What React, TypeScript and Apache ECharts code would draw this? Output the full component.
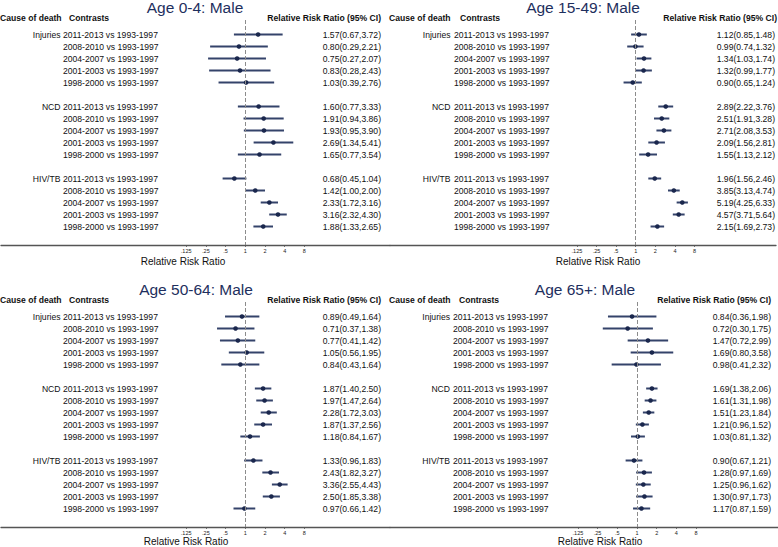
import React, { useEffect, useRef } from 'react';
import * as echarts from 'echarts';

// ---------- data ----------
const causes = ['Injuries', 'NCD', 'HIV/TB'];
const contrasts = [
  '2011-2013 vs 1993-1997',
  '2008-2010 vs 1993-1997',
  '2004-2007 vs 1993-1997',
  '2001-2003 vs 1993-1997',
  '1998-2000 vs 1993-1997',
];
const tickValues = [0.125, 0.25, 0.5, 1, 2, 4, 8];
const tickLabels = ['.125', '.25', '.5', '1', '2', '4', '8'];
const panelTitles = ['Age 0-4: Male', 'Age 15-49: Male', 'Age 50-64: Male', 'Age 65+: Male'];

// order: Injuries x5, NCD x5, HIV/TB x5
const est0_4 = [1.57, 0.80, 0.75, 0.83, 1.03, 1.60, 1.91, 1.93, 2.69, 1.65, 0.68, 1.42, 2.33, 3.16, 1.88];
const lo0_4 = [0.67, 0.29, 0.27, 0.28, 0.39, 0.77, 0.94, 0.95, 1.34, 0.77, 0.45, 1.00, 1.72, 2.32, 1.33];
const hi0_4 = [3.72, 2.21, 2.07, 2.43, 2.76, 3.33, 3.86, 3.90, 5.41, 3.54, 1.04, 2.00, 3.16, 4.30, 2.65];

const est15_49 = [1.12, 0.99, 1.34, 1.32, 0.90, 2.89, 2.51, 2.71, 2.09, 1.55, 1.96, 3.85, 5.19, 4.57, 2.15];
const lo15_49 = [0.85, 0.74, 1.03, 0.99, 0.65, 2.22, 1.91, 2.08, 1.56, 1.13, 1.56, 3.13, 4.25, 3.71, 1.69];
const hi15_49 = [1.48, 1.32, 1.74, 1.77, 1.24, 3.76, 3.28, 3.53, 2.81, 2.12, 2.46, 4.74, 6.33, 5.64, 2.73];

const est50_64 = [0.89, 0.71, 0.77, 1.05, 0.84, 1.87, 1.97, 2.28, 1.87, 1.18, 1.33, 2.43, 3.36, 2.50, 0.97];
const lo50_64 = [0.49, 0.37, 0.41, 0.56, 0.43, 1.40, 1.47, 1.72, 1.37, 0.84, 0.96, 1.82, 2.55, 1.85, 0.66];
const hi50_64 = [1.64, 1.38, 1.42, 1.95, 1.64, 2.50, 2.64, 3.03, 2.56, 1.67, 1.83, 3.27, 4.43, 3.38, 1.42];

const est65 = [0.84, 0.72, 1.47, 1.69, 0.98, 1.69, 1.61, 1.51, 1.21, 1.03, 0.90, 1.28, 1.25, 1.30, 1.17];
const lo65 = [0.36, 0.30, 0.72, 0.80, 0.41, 1.38, 1.31, 1.23, 0.96, 0.81, 0.67, 0.97, 0.96, 0.97, 0.87];
const hi65 = [1.98, 1.75, 2.99, 3.58, 2.32, 2.06, 1.98, 1.84, 1.52, 1.32, 1.21, 1.69, 1.62, 1.73, 1.59];

const panelData = [
  { est: est0_4, lo: lo0_4, hi: hi0_4 },
  { est: est15_49, lo: lo15_49, hi: hi15_49 },
  { est: est50_64, lo: lo50_64, hi: hi50_64 },
  { est: est65, lo: lo65, hi: hi65 },
];

// ---------- layout ----------
const PANELS = [
  { left: 1, right: 390, refX: 245.3, valRight: 381, causeRight: 60.5, conX: 63, titleX: 195, nameX: 183, off: 0, nameOff: 0 },
  { left: 390, right: 778, refX: 637, valRight: 777, causeRight: 450.5, conX: 454, titleX: 583, nameX: 598, off: 0, nameOff: 0 },
  { left: 1, right: 390, refX: 245.3, valRight: 381, causeRight: 60.5, conX: 63, titleX: 196, nameX: 186, off: 282, nameOff: 280 },
  { left: 390, right: 778, refX: 637, valRight: 771, causeRight: 450, conX: 453, titleX: 585, nameX: 600, off: 282, nameOff: 280 },
];
const PX_PER_LOG2 = 19.7;
const ROW_H = 12;
const GRID_TOP = 20;
const GRID_BOTTOM = 245;
const ROW0 = 34.5;
const Y_MIN = -(ROW0 - GRID_TOP) / ROW_H;
const Y_MAX = Y_MIN + (GRID_BOTTOM - GRID_TOP) / ROW_H;
const FONT = '"Liberation Sans", Arial, Helvetica, sans-serif';
const FS = 8.6;
const TXT = '#111111';

const rowIndex = (i: number) => Math.floor(i / 5) * 6 + (i % 5);
const fmt = (v: number) => v.toFixed(2);

export default function App() {
  const ref = useRef<HTMLDivElement>(null);
  useEffect(() => {
    document.body.style.margin = '0';
    if (!ref.current) return;
    const chart = echarts.init(ref.current, null, { renderer: 'svg' });

    const grid: any[] = [];
    const xAxis: any[] = [];
    const yAxis: any[] = [];
    const series: any[] = [];
    const graphic: any[] = [];

    const n = contrasts.length * causes.length;
    const allRows: number[] = [];
    for (let i = 0; i < n; i++) allRows.push(rowIndex(i));
    const causeRows = causes.map((_, g) => g * 6);

    const tickLogs = tickValues.map((v) => Math.log2(v));

    PANELS.forEach((p, k) => {
      const d = panelData[k];
      grid.push({ left: p.left, top: GRID_TOP + p.off, width: p.right - p.left, height: GRID_BOTTOM - GRID_TOP });
      xAxis.push({
        gridIndex: k,
        type: 'value',
        min: -(p.refX - p.left) / PX_PER_LOG2,
        max: (p.right - p.refX) / PX_PER_LOG2,
        axisLine: { show: true, onZero: false, lineStyle: { color: '#555', width: 1.3 } },
        axisTick: { show: true, customValues: tickLogs, length: 2, lineStyle: { color: '#555', width: 0.8 } },
        axisLabel: {
          customValues: tickLogs,
          formatter: (v: number) => {
            const i = tickLogs.findIndex((t) => Math.abs(t - v) < 1e-6);
            return i >= 0 ? tickLabels[i] : '';
          },
          fontSize: 5.5,
          fontFamily: FONT,
          color: '#222',
          margin: 3,
        },
        splitLine: { show: false },
      });
      const baseY = {
        gridIndex: k,
        type: 'value',
        inverse: true,
        min: Y_MIN,
        max: Y_MAX,
        axisLine: { show: false, onZero: false },
        axisTick: { show: false },
        splitLine: { show: false },
      };
      // causes
      yAxis.push({
        ...baseY,
        position: 'left',
        offset: p.left - p.causeRight,
        axisLabel: {
          customValues: causeRows,
          formatter: (v: number) => causes[Math.round(v) / 6] ?? '',
          align: 'right',
          margin: 0,
          fontSize: FS,
          fontFamily: FONT,
          color: TXT,
        },
      });
      // contrasts
      yAxis.push({
        ...baseY,
        position: 'left',
        offset: p.left - p.conX,
        axisLabel: {
          customValues: allRows,
          formatter: (v: number) => contrasts[Math.round(v) % 6] ?? '',
          align: 'left',
          margin: 0,
          fontSize: FS,
          fontFamily: FONT,
          color: TXT,
        },
      });
      // values
      yAxis.push({
        ...baseY,
        position: 'right',
        offset: p.valRight - p.right,
        axisLabel: {
          customValues: allRows,
          formatter: (v: number) => {
            const r = Math.round(v);
            const i = Math.floor(r / 6) * 5 + (r % 6);
            return `${fmt(d.est[i])}(${fmt(d.lo[i])},${fmt(d.hi[i])})`;
          },
          align: 'right',
          margin: 0,
          fontSize: FS,
          fontFamily: FONT,
          color: TXT,
        },
      });

      series.push({
        type: 'custom',
        xAxisIndex: k,
        yAxisIndex: k * 3,
        data: d.est.map((e, i) => [Math.log2(d.lo[i]), Math.log2(d.hi[i]), Math.log2(e), rowIndex(i)]),
        encode: { x: [0, 1, 2], y: 3 },
        renderItem: (params: any, api: any) => {
          const y = api.value(3);
          const a = api.coord([api.value(0), y]);
          const b = api.coord([api.value(1), y]);
          const c = api.coord([api.value(2), y]);
          return {
            type: 'group',
            children: [
              { type: 'line', shape: { x1: a[0], y1: a[1], x2: b[0], y2: b[1] }, style: { stroke: '#34436a', lineWidth: 2 } },
              { type: 'circle', shape: { cx: c[0], cy: c[1], r: 2.3 }, style: { fill: '#1a274d' } },
            ],
          };
        },
        markLine: {
          silent: true,
          symbol: 'none',
          label: { show: false },
          lineStyle: { color: '#8c8c8c', type: [4, 2], width: 1 },
          data: [{ xAxis: 0 }],
        },
        z: 3,
      });

      const text = (x: number, y: number, t: string, align: string, size: number, weight: string, color: string) => ({
        type: 'text',
        x,
        y,
        style: {
          text: t,
          align,
          verticalAlign: 'middle',
          textAlign: align,
          textVerticalAlign: 'middle',
          fontSize: size,
          fontWeight: weight,
          fontFamily: FONT,
          fill: color,
        },
      });
      graphic.push(text(p.titleX, 7 + p.off, panelTitles[k], 'center', 15.5, 'normal', '#1e2f5e'));
      graphic.push(text(p.left - 1, 18 + p.off, 'Cause of death', 'left', FS, 'bold', TXT));
      graphic.push(text(p.conX + 6, 18 + p.off, 'Contrasts', 'left', FS, 'bold', TXT));
      graphic.push(text(p.valRight, 18 + p.off, 'Relative Risk Ratio (95% CI)', 'right', FS, 'bold', TXT));
      graphic.push(text(p.nameX, 261 + p.nameOff, 'Relative Risk Ratio', 'center', 10, 'normal', TXT));
    });

    chart.setOption({
      animation: false,
      backgroundColor: '#ffffff',
      grid,
      xAxis,
      yAxis,
      series,
      graphic,
    });
    return () => chart.dispose();
  }, []);
  return <div ref={ref} style={{ width: 778, height: 547 }} />;
}
